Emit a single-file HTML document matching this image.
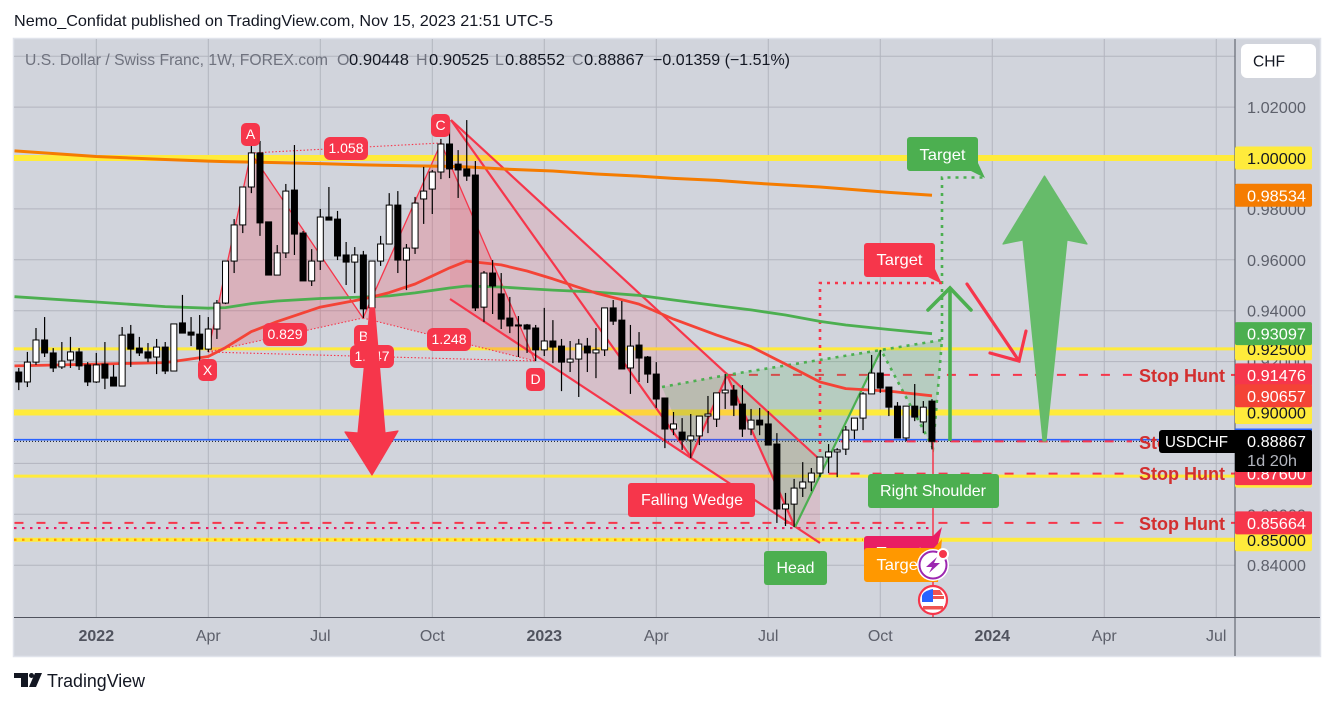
<!DOCTYPE html>
<html lang="en">
<head>
<meta charset="utf-8">
<title>USDCHF weekly chart</title>
<style>
html,body{margin:0;padding:0;background:#fff;width:1334px;height:704px;overflow:hidden}
svg{display:block;font-family:"Liberation Sans",sans-serif}
</style>
</head>
<body>
<svg id="chart" width="1334" height="704" viewBox="0 0 1334 704" xmlns="http://www.w3.org/2000/svg">
  <defs>
    <clipPath id="pane"><rect x="14" y="39" width="1221" height="578"/></clipPath>
  </defs>
  <text x="14" y="26" font-size="16" fill="#131722" textLength="539" lengthAdjust="spacingAndGlyphs">Nemo_Confidat published on TradingView.com, Nov 15, 2023 21:51 UTC-5</text>
  <rect x="13.5" y="38.5" width="1307" height="618" fill="#d1d4dc" stroke="#e0e3eb" stroke-width="1.5"/>
  <g id="gridLayer"></g>
  <g clip-path="url(#pane)">
    <g id="levelLayer"></g>
    <g>
      <polygon points="450,120 820,460 820,543 450,299" fill="#f6364b" fill-opacity="0.13"/>
      <polygon points="208,352 251,153 363,318" fill="#f6364b" fill-opacity="0.22"/>
      <polygon points="363,318 441,143 535,361" fill="#f6364b" fill-opacity="0.22"/>
      <polygon points="662,387 727,375 691,457" fill="#4caf50" fill-opacity="0.2"/>
      <polygon points="727,375 795,527 881,350" fill="#4caf50" fill-opacity="0.2"/>
      <polygon points="881,350 942,340 933,448" fill="#4caf50" fill-opacity="0.2"/>
    </g>
    <g fill="none">
      <polyline points="208,352 251,153 363,318 441,143 535,361" stroke="#f6364b" stroke-width="1.3"/>
      <line x1="208" y1="352" x2="363" y2="318" stroke="#f6364b" stroke-width="1.1" stroke-dasharray="1.5 2"/>
      <line x1="208" y1="352" x2="535" y2="361" stroke="#f6364b" stroke-width="1.1" stroke-dasharray="1.5 2"/>
      <line x1="363" y1="318" x2="535" y2="361" stroke="#f6364b" stroke-width="1.1" stroke-dasharray="1.5 2"/>
      <line x1="251" y1="153" x2="441" y2="143" stroke="#f6364b" stroke-width="1.1" stroke-dasharray="1.5 2"/>
      <line x1="451" y1="120" x2="818" y2="458" stroke="#f6364b" stroke-width="2.2"/>
      <line x1="450" y1="299" x2="820" y2="543" stroke="#f6364b" stroke-width="2.2"/>
      <polyline points="451,120 691,457 727,375 795,527" stroke="#f6364b" stroke-width="2.2"/>
      <line x1="795" y1="527" x2="881" y2="350" stroke="#4caf50" stroke-width="2.2"/>
      <polyline points="662,387 727,375 881,350 942,340 933,448 881,350" stroke="#4caf50" stroke-width="2.6" stroke-dasharray="3 5"/>
      <polyline points="942,340 942,177.5 985,177.5" stroke="#4caf50" stroke-width="2.6" stroke-dasharray="3 5"/>
      <polyline points="820,460 820,283 942,283" stroke="#f6364b" stroke-width="2.6" stroke-dasharray="3 5"/>
    </g>
    <g id="maLayer"></g>
    <line x1="933" y1="441" x2="933" y2="618" stroke="#f6364b" stroke-width="1.5"/>
    <g id="candleLayer"></g>

    <g font-size="14" fill="#fff" text-anchor="middle">
      <rect x="198" y="359" width="19" height="22" rx="5" fill="#f6364b"/>
      <text x="207.5" y="375">X</text>
      <rect x="241" y="123" width="19" height="23" rx="5" fill="#f6364b"/>
      <text x="250.5" y="139">A</text>
      <rect x="431" y="114" width="19" height="23" rx="5" fill="#f6364b"/>
      <text x="440.5" y="130">C</text>
      <rect x="354" y="325" width="19" height="23" rx="5" fill="#f6364b"/>
      <text x="363.5" y="341">B</text>
      <rect x="526" y="368" width="19" height="23" rx="5" fill="#f6364b"/>
      <text x="535.5" y="384">D</text>
      <rect x="324" y="137" width="44" height="23" rx="6" fill="#f6364b"/>
      <text x="346" y="153">1.058</text>
      <rect x="263" y="323" width="44" height="23" rx="6" fill="#f6364b"/>
      <text x="285" y="339">0.829</text>
      <rect x="350" y="345" width="44" height="23" rx="6" fill="#f6364b"/>
      <text x="372" y="361">1.147</text>
      <rect x="427" y="328" width="44" height="23" rx="6" fill="#f6364b"/>
      <text x="449" y="344">1.248</text>
    </g>

    <g font-size="16" fill="#fff" text-anchor="middle">
      <path d="M910 137H975a3 3 0 0 1 3 3V163L985 178L971 171H910a3 3 0 0 1-3-3V140a3 3 0 0 1 3-3Z" fill="#4caf50"/>
      <text x="942.5" y="160" textLength="46" lengthAdjust="spacingAndGlyphs">Target</text>
      <path d="M867 243H932a3 3 0 0 1 3 3V269L942 284L928 277H867a3 3 0 0 1-3-3V246a3 3 0 0 1 3-3Z" fill="#f6364b"/>
      <text x="899.5" y="265" textLength="46" lengthAdjust="spacingAndGlyphs">Target</text>
      <rect x="628" y="483" width="127" height="34" rx="3" fill="#f6364b"/>
      <text x="692" y="505" textLength="102" lengthAdjust="spacingAndGlyphs">Falling Wedge</text>
      <rect x="764" y="551" width="63" height="34" rx="3" fill="#4caf50"/>
      <text x="795.5" y="573" textLength="38" lengthAdjust="spacingAndGlyphs">Head</text>
      <rect x="868" y="474" width="131" height="34" rx="3" fill="#4caf50"/>
      <text x="933" y="496" textLength="106" lengthAdjust="spacingAndGlyphs">Right Shoulder</text>
      <path d="M867 536H933L942 527L936 552L864 552V539a3 3 0 0 1 3-3Z" fill="#e91e63"/>
      <text x="899.5" y="558" textLength="46" lengthAdjust="spacingAndGlyphs">Target</text>
      <path d="M867 548H934L942 539L938 582H867a3 3 0 0 1-3-3V551a3 3 0 0 1 3-3Z" fill="#ff9800"/>
      <text x="899.5" y="570" textLength="46" lengthAdjust="spacingAndGlyphs">Target</text>
    </g>

    <g>
      <polygon points="370,308 374.5,308 385,433 398,431 372,475 345,432 358,433" fill="#f6364b" stroke="#f6364b" stroke-width="1.2" stroke-linejoin="round"/>
      <polygon points="1044.5,176 1087,244 1067,240 1046,441 1043,441 1023,240 1003,244" fill="#66bb6a" stroke="#66bb6a" stroke-width="1.2" stroke-linejoin="round"/>
      <line x1="950" y1="441" x2="950" y2="288" stroke="#4caf50" stroke-width="3.6"/>
      <polyline points="928,310 950,288 971,310" fill="none" stroke="#4caf50" stroke-width="3.6" stroke-linecap="round"/>
      <polyline points="967,284 1019,361" fill="none" stroke="#f6364b" stroke-width="3.2" stroke-linecap="round"/>
      <polyline points="990,353 1019,361 1026,331" fill="none" stroke="#f6364b" stroke-width="3.2" stroke-linecap="round"/>
    </g>

    <g font-size="18" font-weight="700" fill="#d32f2f">
      <text x="1139" y="382" textLength="86" lengthAdjust="spacingAndGlyphs">Stop Hunt</text>
      <text x="1139" y="449" textLength="86" lengthAdjust="spacingAndGlyphs">Stop Hunt</text>
      <text x="1139" y="480" textLength="86" lengthAdjust="spacingAndGlyphs">Stop Hunt</text>
      <text x="1139" y="530" textLength="86" lengthAdjust="spacingAndGlyphs">Stop Hunt</text>
    </g>

    <g>
      <circle cx="933" cy="565" r="16" fill="#fff"/>
      <circle cx="933" cy="565" r="13.5" fill="#fff" stroke="#9c27b0" stroke-width="2"/>
      <polygon points="937,557 926,567 932,567 929,573 940,563 934,563" fill="#9c27b0"/>
      <circle cx="943" cy="554" r="5" fill="#f6364b" stroke="#fff" stroke-width="2"/>
    </g>
    <g>
      <circle cx="933" cy="600" r="14" fill="#fff" stroke="#f6364b" stroke-width="2.2"/>
      <rect x="922" y="596" width="22" height="3" fill="#ef5350"/>
      <rect x="923" y="606" width="20" height="3.5" fill="#ef5350"/>
      <path d="M933 590H940L943 595H933Z" fill="#ef5350"/>
      <path d="M922 602V596Q923 591 933 589V602Z" fill="#2962ff"/>
    </g>
  </g>

  <text x="25" y="65" font-size="16" fill="#6f727e" textLength="303" lengthAdjust="spacingAndGlyphs">U.S. Dollar / Swiss Franc, 1W, FOREX.com</text>
  <g font-size="16" fill="#131722">
    <text x="337" y="65" fill="#6f727e">O</text>
    <text x="349" y="65" textLength="60" lengthAdjust="spacingAndGlyphs">0.90448</text>
    <text x="416" y="65" fill="#6f727e">H</text>
    <text x="429" y="65" textLength="60" lengthAdjust="spacingAndGlyphs">0.90525</text>
    <text x="495" y="65" fill="#6f727e">L</text>
    <text x="505" y="65" textLength="60" lengthAdjust="spacingAndGlyphs">0.88552</text>
    <text x="572" y="65" fill="#6f727e">C</text>
    <text x="584" y="65" textLength="60" lengthAdjust="spacingAndGlyphs">0.88867</text>
    <text x="653" y="65" textLength="137" lengthAdjust="spacingAndGlyphs">−0.01359 (−1.51%)</text>
  </g>

  <line x1="1235" y1="39" x2="1235" y2="656" stroke="#50535e" stroke-width="1"/>
  <line x1="14" y1="617.5" x2="1320" y2="617.5" stroke="#50535e" stroke-width="1"/>
  <g id="axisLayer"></g>

  <rect x="1241" y="44" width="75" height="34" rx="6" fill="#fff"/>
  <text x="1253" y="66.5" font-size="16" fill="#131722" textLength="32" lengthAdjust="spacingAndGlyphs">CHF</text>

  <g>
    <rect x="1235" y="428.5" width="77" height="2" fill="#2962ff"/>
    <rect x="1235" y="430" width="77" height="42" rx="2" fill="#000"/>
    <rect x="1159" y="430" width="80" height="23" rx="3" fill="#000"/>
    <text x="1165" y="447" font-size="16" fill="#fff" textLength="63" lengthAdjust="spacingAndGlyphs">USDCHF</text>
    <text x="1247" y="447" font-size="16" fill="#fff" textLength="59" lengthAdjust="spacingAndGlyphs">0.88867</text>
    <text x="1247" y="466" font-size="16" fill="#b2b5be" textLength="50" lengthAdjust="spacingAndGlyphs">1d 20h</text>
  </g>

  <g>
    <path d="M14 673H28V687H21V678H14Z" fill="#131722"/>
    <circle cx="31.5" cy="675.5" r="2.5" fill="#131722"/>
    <path d="M35 673H42L36 687H29Z" fill="#131722"/>
    <text x="47" y="687" font-size="18" fill="#131722" textLength="98" lengthAdjust="spacingAndGlyphs">TradingView</text>
  </g>
</svg>
<script>
// Weekly candles, week 0 = first week of 2022; first bar is week -9
var firstWeek = -9;
var opens = [.9159,.9120,.9198,.9285,.9234,.9179,.9206,.9238,.9187,.9120,
.9190,.9139,.9104,.9308,.9253,.9238,.9218,.9257,.9163,.9352,
.9316,.9308,.9249,.9328,.9430,.9595,.9737,.9886,1.0020,.9749,
.9540,.9627,.9874,.9705,.9517,.9595,.9768,.9760,.9619,.9591,
.9619,.9411,.9595,.9662,.9815,.9599,.9646,.9839,.9878,.9945,
1.0055,.9976,.9957,.9933,.9414,.9548,.9466,.9371,.9344,.9344,
.9332,.9246,.9281,.9261,.9198,.9210,.9261,.9234,.9246,.9411,
.9363,.9175,.9265,.9218,.9151,.9057,.8935,.8923,.8892,.8908,
.8986,.8974,.9077,.9088,.9033,.8935,.8970,.8955,.8876,.8621,
.8640,.8703,.8727,.8762,.8825,.8845,.8856,.8931,.8978,.9073,
.9155,.9100,.9025,.8900,.9025,.8963,.90448];
var highs = [.9175,.9238,.9332,.9375,.9253,.9277,.9297,.9253,.9198,.9234,
.9277,.9187,.9336,.9344,.9297,.9273,.9289,.9277,.9348,.9462,
.9375,.9383,.9375,.9442,.9595,.9760,.9886,1.0051,1.0067,.9749,
.9658,.9898,1.0051,.9713,.9642,.9800,.9886,.9792,.9670,.9650,
.9635,.9595,.9694,.9862,.9870,.9662,.9847,.9965,.9953,1.0075,
1.0149,1.0031,1.0149,.9988,.9556,.9599,.9548,.9454,.9379,.9348,
.9344,.9411,.9363,.9289,.9281,.9289,.9293,.9332,.9411,.9442,
.9438,.9344,.9316,.9222,.9198,.9057,.9002,.8978,.8994,.8986,
.9065,.9077,.9151,.9108,.9108,.9014,.9018,.9006,.8919,.8684,
.8739,.8805,.8782,.8825,.8876,.8860,.8947,.8978,.9080,.9226,
.9246,.9100,.9041,.9025,.9112,.9045,.90525];
var lows = [.9088,.9100,.9187,.9218,.9159,.9171,.9175,.9167,.9104,.9116,
.9092,.9104,.9104,.9179,.9222,.9198,.9151,.9151,.9163,.9312,
.9261,.9194,.9238,.9289,.9426,.9548,.9705,.9862,.9694,.9540,
.9540,.9607,.9619,.9517,.9497,.9560,.9756,.9599,.9501,.9469,
.9371,.9411,.9576,.9662,.9548,.9481,.9623,.9741,.9780,.9917,
.9921,.9843,.9910,.9399,.9356,.9387,.9328,.9312,.9218,.9234,
.9202,.9222,.9194,.9084,.9159,.9061,.9159,.9135,.9222,.9344,
.9171,.9073,.9120,.9116,.9018,.8860,.8911,.8853,.8821,.8872,
.8919,.8943,.9014,.8986,.8904,.8911,.8911,.8872,.8566,.8554,
.8550,.8668,.8691,.8746,.8762,.8746,.8833,.8896,.8931,.9073,
.9077,.8986,.8900,.8888,.8966,.8919,.88552];
var closes = [.9120,.9198,.9285,.9234,.9175,.9202,.9238,.9183,.9120,.9187,
.9135,.9104,.9304,.9249,.9234,.9214,.9257,.9163,.9348,.9312,
.9304,.9249,.9328,.9430,.9595,.9737,.9886,1.0020,.9745,.9540,
.9627,.9870,.9701,.9517,.9595,.9768,.9756,.9615,.9591,.9619,
.9407,.9595,.9662,.9815,.9599,.9646,.9823,.9870,.9945,1.0055,
.9957,.9953,.9929,.9411,.9548,.9497,.9367,.9340,.9340,.9328,
.9246,.9281,.9257,.9198,.9210,.9269,.9234,.9246,.9411,.9359,
.9171,.9261,.9214,.9151,.9053,.8935,.8955,.8892,.8908,.8986,
.8994,.9077,.9088,.9029,.8935,.8970,.8951,.8872,.8621,.8640,
.8703,.8727,.8762,.8825,.8845,.8853,.8931,.8978,.9073,.9155,
.9096,.9021,.8900,.9025,.8982,.9021,.88867];

// Moving averages sampled at these weeks
var maWeeks = [-9.5,0,8,13,15,18,21,26,31,34,37,41,43,47,50,53,58,63,67,72,76,80,84,87,92,97];
var orangeMA = [1.0028,1.0006,.9994,.9988,.9986,.9984,.9982,.9978,.9973,.9971,.9969,.9967,.9965,.9957,.9953,.9949,.9937,.9929,.9920,.9912,.9902,.9894,.9886,.9878,.9865,.98534];
var greenMA = [.9455,.9434,.9416,.9410,.9412,.9428,.9438,.9448,.9454,.9458,.9470,.9489,.9497,.9493,.9487,.9481,.9473,.9460,.9442,.9420,.9403,.9383,.9358,.9344,.9326,.93097];
var redMA = [.9183,.9190,.9196,.9220,.9255,.9318,.9357,.9414,.9446,.9471,.9505,.9568,.9595,.9580,.9556,.9525,.9469,.9426,.9367,.9304,.9259,.9190,.9120,.9094,.9084,.90657];

// Horizontal levels
var yellowLevels = [1.0,.925,.9,.875,.85];
var yellowThickness = [6,3,6,3,4];
var stopLevels = [.91476,.88867,.876,.85664];
var stopStartWeeks = [73.2,86.4,85,-9.5];
var lastPrice = .88867;
var blueLevel = .8893;
var pinkDottedLevel = .8546;
var orangeDottedLevel = .85;

// Axis ticks
var priceTicks = [1.04,1.02,1.0,.98,.96,.94,.92,.9,.88,.86,.84];
var priceTickLabels = ['','1.02000','','0.98000','0.96000','0.94000','0.92000','','','0.86000','0.84000'];
var timeTickWeeks = [0,13,26,39,52,65,78,91,104,117,130];
var timeTickLabels = ['2022','Apr','Jul','Oct','2023','Apr','Jul','Oct','2024','Apr','Jul'];

// Price-scale tags
var yellowTags = [1.0,.925,.9,.875,.85];
var yellowTagLabels = ['1.00000','0.92500','0.90000','','0.85000'];
var colorTags = [.98534,.93097,.91476,.90657,.876,.85664];
var colorTagLabels = ['0.98534','0.93097','0.91476','0.90657','0.87600','0.85664'];
var colorTagFills = ['#f57c00','#4caf50','#f6364b','#f44336','#f6364b','#f6364b'];

function x(week){ return 96.3 + week * 8.615; }
function y(price){ return 158 + (1 - price) * 2545; }

var NS = 'http://www.w3.org/2000/svg';
function mk(parent, tag, attrs, txt){
  var el = document.createElementNS(NS, tag);
  for (var k in attrs) el.setAttribute(k, attrs[k]);
  if (txt !== undefined) el.textContent = txt;
  parent.appendChild(el);
  return el;
}
var gridLayer = document.getElementById('gridLayer');
var levelLayer = document.getElementById('levelLayer');
var maLayer = document.getElementById('maLayer');
var candleLayer = document.getElementById('candleLayer');
var axisLayer = document.getElementById('axisLayer');

// grid
priceTicks.forEach(function(p){
  var el = mk(gridLayer, 'line', {x1:14, x2:1235, y1:y(p), y2:y(p), stroke:'#b2b5be', 'stroke-width':1});
  
  
});
timeTickWeeks.forEach(function(w){
  var el = mk(gridLayer, 'line', {x1:x(w), x2:x(w), y1:39, y2:617, stroke:'#b2b5be', 'stroke-width':1});
  
  
});

// levels
yellowLevels.forEach(function(p, i){
  var el = mk(levelLayer, 'line', {x1:14, x2:1235, y1:y(p), y2:y(p), stroke:'#ffeb3b', 'stroke-width':yellowThickness[i]});
  
  
});
var blue = mk(levelLayer, 'line', {x1:14, x2:1235, y1:y(blueLevel), y2:y(blueLevel), stroke:'#2962ff', 'stroke-width':1.6});


var lastLine = mk(levelLayer, 'line', {x1:14, x2:1235, y1:y(lastPrice), y2:y(lastPrice), stroke:'#131722', 'stroke-width':1, 'stroke-dasharray':'1 2'});


var pinkDots = mk(levelLayer, 'line', {x1:14, x2:x(96.8), y1:y(pinkDottedLevel), y2:y(pinkDottedLevel), stroke:'#e91e63', 'stroke-width':2.2, 'stroke-dasharray':'2.5 5.5'});


var orangeDots = mk(levelLayer, 'line', {x1:14, x2:x(89), y1:y(orangeDottedLevel), y2:y(orangeDottedLevel), stroke:'#ff9800', 'stroke-width':2.2, 'stroke-dasharray':'2.5 5.5'});


stopLevels.forEach(function(p, i){
  var el = mk(levelLayer, 'line', {x1:x(stopStartWeeks[i]), x2:1132, y1:y(p), y2:y(p), stroke:'#f6364b', 'stroke-width':2, 'stroke-dasharray':'9 13'});
  
  
  var stub = mk(levelLayer, 'line', {x1:1231, x2:1235, y1:y(p), y2:y(p), stroke:'#f6364b', 'stroke-width':2});
  
  
});

// moving averages
function maPoints(values){
  return values.map(function(v, i){ return x(maWeeks[i]).toFixed(1) + ',' + y(v).toFixed(1); }).join(' ');
}
var orangeLine = mk(maLayer, 'polyline', {points:maPoints(orangeMA), fill:'none', stroke:'#f57c00', 'stroke-width':3, 'stroke-linejoin':'round'});


var greenLine = mk(maLayer, 'polyline', {points:maPoints(greenMA), fill:'none', stroke:'#4caf50', 'stroke-width':2.8, 'stroke-linejoin':'round'});


var redLine = mk(maLayer, 'polyline', {points:maPoints(redMA), fill:'none', stroke:'#f44336', 'stroke-width':2.8, 'stroke-linejoin':'round'});



// candles
opens.forEach(function(o, i){
  var cx = x(firstWeek + i), c = closes[i];
  var wick = mk(candleLayer, 'line', {x1:cx, x2:cx, y1:y(highs[i]), y2:y(lows[i]), stroke:'#000', 'stroke-width':1.2});
  
  
  var top = y(Math.max(o, c)), bot = y(Math.min(o, c));
  var body = mk(candleLayer, 'rect', {x:cx - 3, y:top, width:6, height:Math.max(bot - top, 1), fill:c >= o ? '#fff' : '#000', stroke:'#000', 'stroke-width':1});
  
  
});

// axis labels
priceTicks.forEach(function(p, i){
  if (!priceTickLabels[i]) return;
  var el = mk(axisLayer, 'text', {x:1247, y:y(p) + 6, 'font-size':16, fill:'#5d606b', textLength:59, lengthAdjust:'spacingAndGlyphs'}, priceTickLabels[i]);
  
  
});
timeTickWeeks.forEach(function(w, i){
  var isYear = timeTickLabels[i].length === 4;
  var el = mk(axisLayer, 'text', {x:x(w), y:641, 'font-size':16, 'font-weight':isYear ? 700 : 400, fill:isYear ? '#50535e' : '#5d606b', 'text-anchor':'middle'}, timeTickLabels[i]);
  
  
});

// price tags
yellowTags.forEach(function(p, i){
  var box = mk(axisLayer, 'rect', {x:1235, y:y(p) - 11.5, width:77, height:23, rx:2, fill:'#ffeb3b'});
  
  
  if (yellowTagLabels[i]) {
    var t = mk(axisLayer, 'text', {x:1247, y:y(p) + 6, 'font-size':16, fill:'#131722', textLength:59, lengthAdjust:'spacingAndGlyphs'}, yellowTagLabels[i]);
    
    
  }
});
colorTags.forEach(function(p, i){
  var box = mk(axisLayer, 'rect', {x:1235, y:y(p) - 11.5, width:77, height:23, rx:2, fill:colorTagFills[i]});
  
  
  var t = mk(axisLayer, 'text', {x:1247, y:y(p) + 6, 'font-size':16, fill:'#fff', textLength:59, lengthAdjust:'spacingAndGlyphs'}, colorTagLabels[i]);
  
  
});
</script>
</body>
</html>
